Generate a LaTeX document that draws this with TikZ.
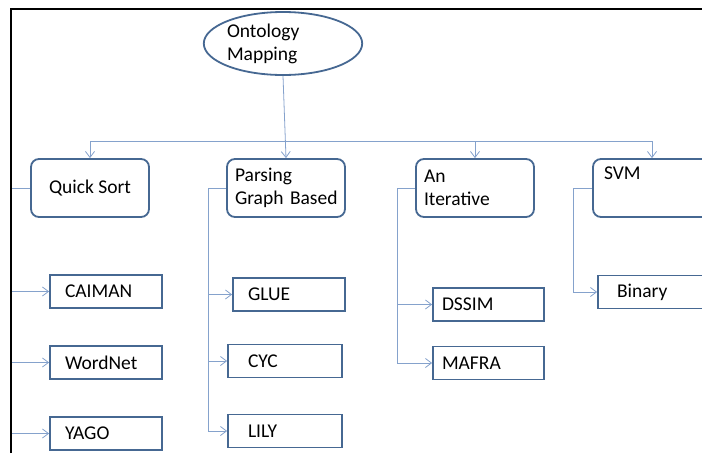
\documentclass[tikz,border=0pt]{standalone}
\usepackage{fontspec}
\setmainfont{Carlito}
\usepackage{tikz}
\usetikzlibrary{positioning,shapes,arrows.meta}
\definecolor{boxblue}{RGB}{70,104,146}
\definecolor{linkblue}{RGB}{133,162,204}
\tikzset {
    style A/.style={
        draw=boxblue,
        line width=1.8pt,
        rectangle, % plain box for the leaves
        minimum height=33pt,
        inner xsep=15pt,
        text width=82pt,
        align=left,
    },
    style B/.style={
        draw=boxblue,
        line width=1.8pt,
        rectangle, % rounded box for the methods
        rounded corners=8pt,
        minimum width=118pt,
        minimum height=58pt,
        inner xsep=8pt,
        text width=102pt,
        align=left,
    },
    style C/.style={
        draw=boxblue,
        line width=1.8pt,
        ellipse,
        inner sep=0pt,
        minimum height=63pt,
        text width=112pt,
        align=left,
    },
    style D/.style={
        draw=linkblue,
        line width=0.8pt,
    },
}
\begin{document}
\begin{tikzpicture}
        [x=1pt, y=-1pt, font=\fontsize{19.5}{23}\selectfont,
        >={Straight Barb[length=6pt,width=9pt]}]

        \useasboundingbox (0,0) rectangle (702,453);
        \clip (0,0) rectangle (702,453);

        \node[style C] (OM) at (283,43.5) {Ontology\\Mapping};

        \node[style B, align=flush center] (QS) at (90,188) {Quick Sort};
        \node[style B] (PGB) at (286,188) {Parsing\\Graph~Based};
        \node[style B] (AI) at (475,188) {An\\Iterative};
        \node[style B, inner xsep=11pt, text width=96pt] (SVM) at (652,188) {SVM\\\strut};

        \node[style A] (CAIMAN) at (106,291.5) {CAIMAN};
        \node[style A] (WN) at (106,362.5) {WordNet};
        \node[style A] (YAGO) at (106,433.5) {YAGO};
        \node[style A] (GLUE) at (289,294.5) {GLUE};
        \node[style A, inner xsep=20pt, text width=74pt] (CYC) at (285,361) {CYC};
        \node[style A, inner xsep=20pt, text width=74pt] (LILY) at (285,431) {LILY};
        \node[style A, inner xsep=9pt, text width=93pt] (DSSIM) at (488.5,304.5) {DSSIM};
        \node[style A, inner xsep=9pt, text width=93pt] (MAFRA) at (488.5,363) {MAFRA};
        \node[style A, inner xsep=19pt, text width=76pt] (Bin) at (655,292) {Binary};

        \coordinate (bus) at (90,141);
        \coordinate (s1) at (11,0);
        \coordinate (s2) at (208,0);
        \coordinate (s3) at (397,0);
        \coordinate (s4) at (573,0);

        \draw[style D] (bus) -- (SVM.north |- bus);
        \draw[style D, ->] (bus) -- (QS.north);
        \draw[style D, ->] (OM.south) -- (PGB.north);
        \draw[style D, ->] (AI.north |- bus) -- (AI.north);
        \draw[style D, ->] (SVM.north |- bus) -- (SVM.north);

        \draw[style D] (QS.west) -| (s1 |- YAGO);
        \draw[style D, ->] (s1 |- CAIMAN) -- (CAIMAN.west);
        \draw[style D, ->] (s1 |- WN) -- (WN.west);
        \draw[style D, ->] (s1 |- YAGO) -- (YAGO.west);

        \draw[style D] (PGB.west) -| (s2 |- LILY);
        \draw[style D, ->] (s2 |- GLUE) -- (GLUE.west);
        \draw[style D, ->] (s2 |- CYC) -- (CYC.west);
        \draw[style D, ->] (s2 |- LILY) -- (LILY.west);

        \draw[style D] (AI.west) -| (s3 |- MAFRA);
        \draw[style D, ->] (s3 |- DSSIM) -- (DSSIM.west);
        \draw[style D, ->] (s3 |- MAFRA) -- (MAFRA.west);

        \draw[style D] (SVM.west) -| (s4 |- Bin);
        \draw[style D, ->] (s4 |- Bin) -- (Bin.west);

        % frame
        \draw[line width=2.2pt] (11,453) -- (11,9) -- (702,9);
    \end{tikzpicture}
\end{document}
